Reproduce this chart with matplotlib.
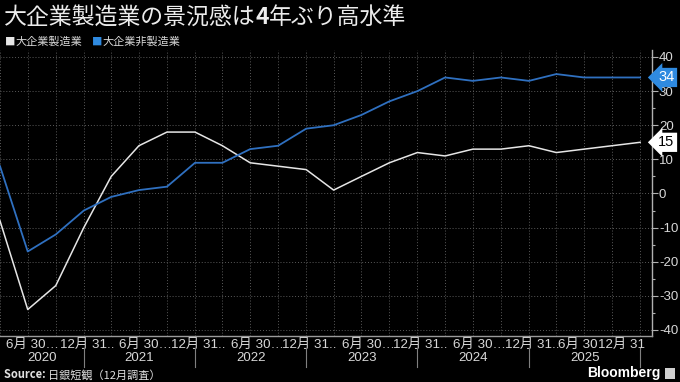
import numpy as np
import pandas as pd
import matplotlib
matplotlib.use("Agg")
import matplotlib.pyplot as plt
import matplotlib.dates as mdates
from matplotlib.transforms import ScaledTranslation, blended_transform_factory
from matplotlib.lines import Line2D
from matplotlib.patches import Rectangle

plt.rcParams["axes.unicode_minus"] = False

JP = ["Noto Sans CJK JP", "DejaVu Sans"]
LAT = ["Liberation Sans", "Noto Sans CJK JP"]

# Tankan DI, quarterly (Mar 2020 .. Dec 2025)
quarters = pd.date_range("2020-03-31", "2025-12-31", freq="QE")
manufacturing = [-8, -34, -27, -10, 5, 14, 18, 18, 14, 9, 8, 7,
                 1, 5, 9, 12, 11, 13, 13, 14, 12, 13, 14, 15]
non_manufacturing = [8, -17, -12, -5, -1, 1, 2, 9, 9, 13, 14, 19,
                     20, 23, 27, 30, 34, 33, 34, 33, 35, 34, 34, 34]

series_names = ["大企業製造業", "大企業非製造業"]
line_colors = ["#e6e6e6", "#2f70c0"]

tick_dates = ["2020-06-30", "2020-12-31", "2021-06-30", "2021-12-31",
              "2022-06-30", "2022-12-31", "2023-06-30", "2023-12-31",
              "2024-06-30", "2024-12-31", "2025-06-30", "2025-12-31"]
tick_labels = ["6月 30…", "12月 31..", "6月 30…", "12月 31..",
               "6月 30…", "12月 31..", "6月 30…", "12月 31..",
               "6月 30…", "12月 31..", "6月 30", "12月 31"]
tick_shift_px = [5, 3, 7, 3, 7, 3, 7, 3, 7, 3, -6, -19]
years = [2020, 2021, 2022, 2023, 2024, 2025]

fig = plt.figure(figsize=(6.8, 3.82), dpi=100, facecolor="black")
ax = fig.add_axes([0, 1 - 336 / 382, 652 / 680, 286 / 382], facecolor="black")

x = mdates.date2num(quarters)
ax.plot(x, manufacturing, color=line_colors[0], lw=1.1, zorder=3)
ax.plot(x, non_manufacturing, color=line_colors[1], lw=1.3, zorder=3)

x_left = x[0]
x_right = x[-1] + 39

# axes / spines
for s in ["top", "left"]:
    ax.spines[s].set_visible(False)
ax.spines["bottom"].set_color("#9a9a9a")
ax.spines["right"].set_color("#b0b0b0")
ax.spines["bottom"].set_linewidth(1.0)
ax.spines["right"].set_linewidth(1.0)

ax.yaxis.tick_right()
ax.set_yticks(np.arange(-40, 41, 10))
ax.set_yticks(np.arange(-35, 40, 10), minor=True)
ax.tick_params(axis="y", which="major", length=4, width=0.8, color="#b0b0b0",
               labelcolor="#d8d8d8", labelsize=9.5, pad=1)
ax.tick_params(axis="y", which="minor", length=2, width=0.8, color="#b0b0b0")

tick_x = mdates.date2num(pd.to_datetime(tick_dates))
ax.set_xticks(tick_x, tick_labels)
ax.set_xticks(x, minor=True)
ax.tick_params(axis="x", which="both", length=0, labelcolor="#d8d8d8",
               labelsize=9.6, pad=2)

for lab in ax.get_xticklabels() + ax.get_yticklabels():
    lab.set_fontfamily(LAT)
for lab, dx in zip(ax.get_xticklabels(), tick_shift_px):
    lab.set_transform(lab.get_transform() + ScaledTranslation(dx / 100, 0, fig.dpi_scale_trans))

ax.grid(axis="x", which="both", color="#5a5a5a", ls=(0, (1, 2)), lw=0.7)
ax.grid(axis="y", which="major", color="#5a5a5a", ls=(0, (1, 2)), lw=0.7)
ax.set_axisbelow(True)

ax.set_xlim(x_left, x_right)
ax.set_ylim(-41.76, 42.05)

# year row
trans = blended_transform_factory(ax.transData, fig.transFigure)
for yr in years:
    start = max(mdates.date2num(pd.Timestamp(f"{yr}-01-01")), x_left)
    end = mdates.date2num(pd.Timestamp(f"{yr}-12-31"))
    fig.text((start + end) / 2, 1 - 358 / 382, str(yr), transform=trans,
             ha="center", va="center", fontsize=9.5, color="#d8d8d8", family=LAT)
    fig.add_artist(Line2D([end, end], [1 - 348 / 382, 1 - 367 / 382],
                          transform=trans, color="#808080", lw=0.8))

# last value tags
tag_trans = blended_transform_factory(ax.transAxes, ax.transData)
for vals, bg, fg in [(non_manufacturing, "#2f8ae0", "white"),
                     (manufacturing, "white", "black")]:
    ax.annotate(str(vals[-1]), xy=(1, vals[-1]), xycoords=tag_trans,
                xytext=(4.5, 0), textcoords="offset points", ha="left", va="center",
                fontsize=10.5, color=fg, family=LAT, annotation_clip=False,
                bbox=dict(boxstyle="larrow,pad=0.18", fc=bg, ec="none"))

# title
t1 = fig.text(4 / 680, 1 - 17 / 382, "大企業製造業の景況感は", fontsize=16.5,
              color="#ececec", family=JP, va="center")
t2 = ax.annotate("4", xy=(1, 0), xycoords=t1, ha="left", va="bottom",
                 fontsize=16.5, color="#ececec", family=JP, weight="bold",
                 annotation_clip=False)
ax.annotate("年ぶり高水準", xy=(1, 0), xycoords=t2, ha="left", va="bottom",
            fontsize=16.5, color="#ececec", family=JP, annotation_clip=False)

# legend
m1 = fig.text(5 / 680, 1 - 42 / 382, "■", fontsize=7.5, color=line_colors[0],
              family=JP, va="center")
l1 = ax.annotate(series_names[0], xy=(1, 0), xycoords=m1, ha="left", va="bottom",
                 fontsize=8, color="#d8d8d8", family=JP, annotation_clip=False)
m2 = ax.annotate("■", xy=(1, 0), xycoords=l1, xytext=(7, 0), textcoords="offset points",
                 ha="left", va="bottom", fontsize=7.5, color="#2f8ae0", family=JP,
                 annotation_clip=False)
ax.annotate(series_names[1], xy=(1, 0), xycoords=m2, ha="left", va="bottom",
            fontsize=8, color="#d8d8d8", family=JP, annotation_clip=False)

# footer
s1 = fig.text(4 / 680, 1 - 374 / 382, "Source: ", fontsize=8, color="#e0e0e0",
              family=JP, weight="bold", va="center")
ax.annotate("日銀短観（12月調査）", xy=(1, 0), xycoords=s1, ha="left", va="bottom",
            fontsize=8, color="#e0e0e0", family=JP, annotation_clip=False)
fig.text(661 / 680, 1 - 373 / 382, "Bloomberg", fontsize=10, color="white",
         family=LAT, weight="bold", ha="right", va="center")
fig.add_artist(Rectangle((665 / 680, 1 - 379 / 382), 10 / 680, 11 / 382,
                         transform=fig.transFigure, fc="#d0d0d0", ec="none"))

fig.savefig("out.png", dpi=100, facecolor="black")
